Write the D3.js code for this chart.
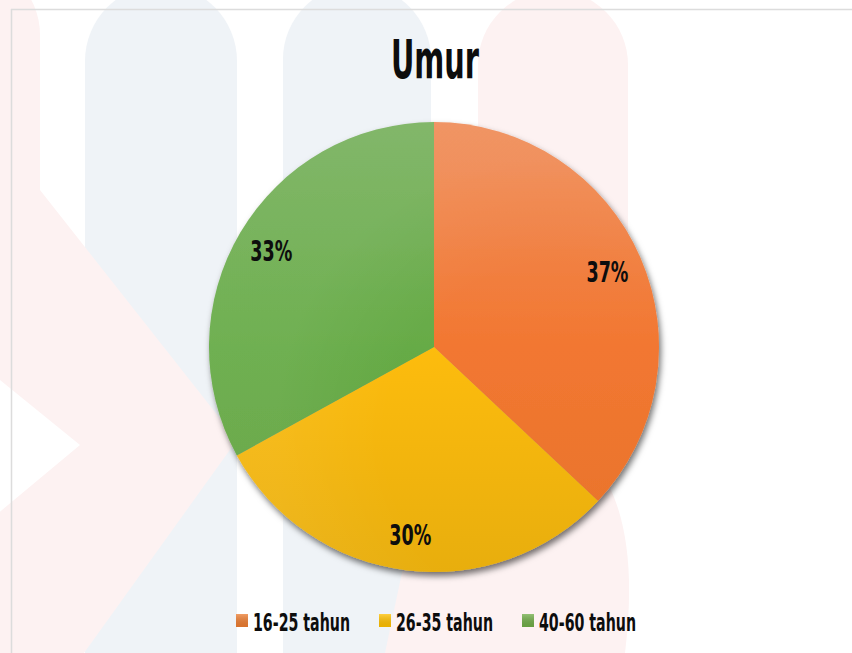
<!DOCTYPE html>
<html>
<head>
<meta charset="utf-8">
<script src="https://cdn.jsdelivr.net/npm/d3@7"></script>
<style>
  body { margin: 0; background: #fff; }
  svg { display: block; }
  text { font-family: 'Liberation Sans Narrow', 'DejaVu Sans Condensed', 'Roboto Condensed', sans-serif; font-weight: bold; fill: #0d0d0d; }
</style>
</head>
<body>
<svg id="chart" width="852" height="653"></svg>
<script>
const categories = ['16-25 tahun', '26-35 tahun', '40-60 tahun'];
const values = [37, 30, 33];
const title = 'Umur';

const baseColors = ['#ED7D31', '#FFC000', '#70AD47'];
// top / mid / bottom stops of each slice gradient
const shades = [
  ['#EF8E5B', '#F27731', '#E7742A'],
  ['#FFBE3A', '#FDBC0C', '#E8AE0A'],
  ['#7AB260', '#66AB46', '#62A03E']
];

const W = 852, H = 653;
const cx = 434, cy = 347, R = 225;

const svg = d3.select('#chart');
const defs = svg.append('defs');

// ---- faint watermark behind the chart
const wm = svg.append('g');
const blue = '#EFF3F7', pink = '#FDF2F2';
function bar(x0, x1, yTop, yBot, fill) {
  const r = (x1 - x0) / 2;
  wm.append('path')
    .attr('d', `M${x0},${yBot} L${x0},${yTop + r} A${r},${r} 0 0 1 ${x1},${yTop + r} L${x1},${yBot} Z`)
    .attr('fill', fill);
}
bar(85, 237, -15, H, blue);
bar(283, 431, -15, H, blue);
bar(478, 628, -10, 430, pink);
bar(-110, 40, -40, 260, pink);
wm.append('path')
  .attr('d', 'M-10,150 L40,190 L237,440 L84,653 L-10,653 Z M-10,372 L80,445 L-10,520 Z')
  .attr('fill', pink).attr('fill-rule', 'evenodd');
wm.append('path')
  .attr('d', 'M430,440 L520,360 L600,470 Q640,530 625,653 L385,653 Z')
  .attr('fill', pink);

// frame lines
svg.append('line').attr('x1', 11).attr('x2', W).attr('y1', 9.5).attr('y2', 9.5)
  .attr('stroke', '#dcdcdc').attr('stroke-width', 1.5);
svg.append('line').attr('x1', 11.5).attr('x2', 11.5).attr('y1', 9).attr('y2', H)
  .attr('stroke', '#dcdcdc').attr('stroke-width', 1.5);

// ---- gradients (pie group is translated, so coords are local to the centre)
shades.forEach((s, i) => {
  const g = defs.append('linearGradient').attr('id', 'grad' + i)
    .attr('gradientUnits', 'userSpaceOnUse')
    .attr('x1', 0).attr('y1', -R).attr('x2', 0).attr('y2', R);
  g.append('stop').attr('offset', '0%').attr('stop-color', s[0]);
  g.append('stop').attr('offset', '50%').attr('stop-color', s[1]);
  g.append('stop').attr('offset', '100%').attr('stop-color', s[2]);
});
const lg = defs.append('linearGradient').attr('id', 'legGrad').attr('x1', 0).attr('y1', 0).attr('x2', 0).attr('y2', 1);
lg.append('stop').attr('offset', '0%').attr('stop-color', '#fff').attr('stop-opacity', 0.25);
lg.append('stop').attr('offset', '100%').attr('stop-color', '#000').attr('stop-opacity', 0.08);

const shadow = defs.append('filter').attr('id', 'shadow')
  .attr('x', '-10%').attr('y', '-10%').attr('width', '120%').attr('height', '120%');
shadow.append('feDropShadow').attr('dx', 2).attr('dy', 4).attr('stdDeviation', 3)
  .attr('flood-color', '#000').attr('flood-opacity', 0.55);

// ---- title
svg.append('text')
  .attr('x', 435).attr('y', 78)
  .attr('text-anchor', 'middle')
  .attr('font-size', 53)
  .attr('textLength', 88).attr('lengthAdjust', 'spacingAndGlyphs')
  .text(title);

// ---- pie
const pie = d3.pie().sort(null).value(d => d);
const arcs = pie(values);
const arc = d3.arc().innerRadius(0).outerRadius(R);
const labelArc = d3.arc().innerRadius(R * 0.84).outerRadius(R * 0.84);

const g = svg.append('g').attr('transform', `translate(${cx},${cy})`);
g.append('g').attr('filter', 'url(#shadow)')
  .selectAll('path').data(arcs).enter()
  .append('path')
  .attr('d', arc)
  .attr('fill', (d, i) => `url(#grad${i})`);

// soft sheen: slightly lighter rim
const sheen = defs.append('radialGradient').attr('id', 'sheen')
  .attr('gradientUnits', 'userSpaceOnUse')
  .attr('cx', 120).attr('cy', 90).attr('r', R * 1.25);
sheen.append('stop').attr('offset', '0%').attr('stop-color', '#fff').attr('stop-opacity', 0.0);
sheen.append('stop').attr('offset', '60%').attr('stop-color', '#fff').attr('stop-opacity', 0.0);
sheen.append('stop').attr('offset', '100%').attr('stop-color', '#fff').attr('stop-opacity', 0.06);
g.append('circle').attr('r', R).attr('fill', 'url(#sheen)');

g.selectAll('text.lbl').data(arcs).enter()
  .append('text')
  .attr('class', 'lbl')
  .attr('transform', d => {
    const c = labelArc.centroid(d);
    return `translate(${c[0]},${c[1] + 10})`;
  })
  .attr('text-anchor', 'middle')
  .attr('font-size', 28)
  .attr('textLength', 42).attr('lengthAdjust', 'spacingAndGlyphs')
  .text(d => d.data + '%');

// ---- legend
const legendX = d3.scalePoint().domain(categories).range([236, 522]);
const leg = svg.append('g').selectAll('g').data(categories).enter()
  .append('g')
  .attr('transform', d => `translate(${legendX(d)},0)`);
leg.append('rect').attr('x', 0).attr('y', 614).attr('width', 12).attr('height', 13)
  .attr('fill', (d, i) => baseColors[i]);
leg.append('rect').attr('x', 0).attr('y', 614).attr('width', 12).attr('height', 13)
  .attr('fill', 'url(#legGrad)');
leg.append('text')
  .attr('x', 17).attr('y', 631)
  .attr('font-size', 25)
  .attr('textLength', 97).attr('lengthAdjust', 'spacingAndGlyphs')
  .text(d => d);
</script>
</body>
</html>
